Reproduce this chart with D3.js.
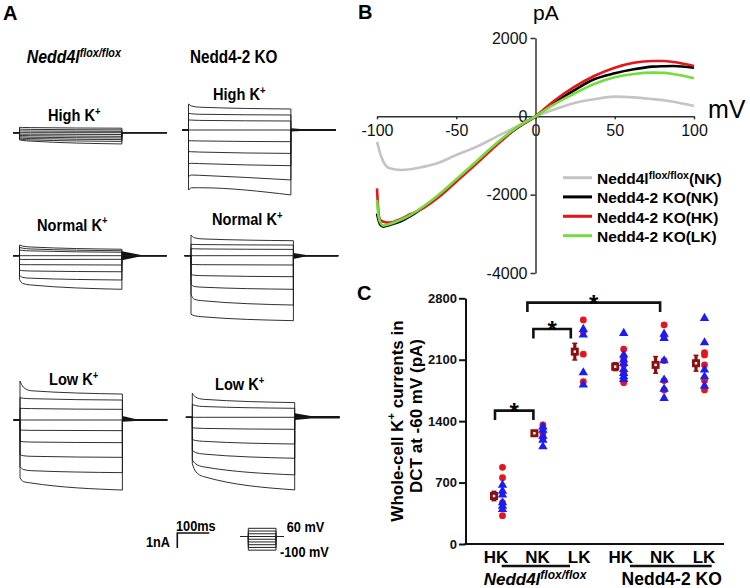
<!DOCTYPE html>
<html><head><meta charset="utf-8">
<script src="https://cdn.jsdelivr.net/npm/d3@7"></script>
<style>
html,body{margin:0;padding:0;background:#fff;}
svg{display:block;font-family:"Liberation Sans",Arial,Helvetica,sans-serif;}
</style></head><body>
<svg id="chart" width="750" height="588"></svg>
<script>
// ================= DATA =================
// Panel A: whole-cell current traces (nA, relative to holding) sampled at these times (ms) in the 320 ms step
const traceTimes = [0, 10, 35, 320];
const floxHighK = [
  [0.36, 0.35, 0.34, 0.30], [0.24, 0.23, 0.22, 0.19], [0.12, 0.115, 0.11, 0.09], [0, 0, 0, 0],
  [-0.09, -0.10, -0.10, -0.12], [-0.18, -0.19, -0.20, -0.24], [-0.27, -0.28, -0.30, -0.35],
  [-0.35, -0.37, -0.39, -0.46], [-0.42, -0.45, -0.48, -0.58], [-0.48, -0.52, -0.56, -0.75]];
const koHighK = [
  [1.73, 1.60, 1.52, 1.40], [1.11, 1.08, 1.05, 1.00], [0.67, 0.66, 0.64, 0.60], [0, 0, 0, 0],
  [-0.71, -0.72, -0.73, -0.78], [-1.44, -1.45, -1.47, -1.56], [-2.25, -2.22, -2.24, -2.38],
  [-3.10, -3.00, -3.02, -3.33], [-4.00, -3.85, -3.85, -4.33]];
const floxNormalK = [
  [0.71, 0.64, 0.58, 0.43], [0.55, 0.50, 0.45, 0.33], [0.38, 0.35, 0.32, 0.23], [0, 0, 0, 0],
  [-0.24, -0.25, -0.25, -0.24], [-0.58, -0.60, -0.60, -0.62], [-0.95, -1.00, -1.02, -1.07],
  [-1.30, -1.45, -1.50, -1.62], [-1.60, -1.85, -1.95, -2.24]];
const koNormalK = [
  [1.38, 1.20, 1.12, 1.00], [0.76, 0.75, 0.74, 0.71], [0.47, 0.46, 0.45, 0.42], [0, 0, 0, 0],
  [-0.58, -0.59, -0.60, -0.62], [-1.25, -1.30, -1.33, -1.40], [-1.90, -2.05, -2.10, -2.24],
  [-2.60, -2.90, -3.00, -3.29], [-3.90, -4.00, -4.07, -4.33]];
const floxLowK = [
  [2.60, 2.20, 1.95, 1.73], [1.49, 1.45, 1.42, 1.33], [0.78, 0.77, 0.76, 0.71], [0, 0, 0, 0],
  [-0.67, -0.68, -0.69, -0.71], [-1.42, -1.45, -1.47, -1.51], [-2.30, -2.38, -2.42, -2.49],
  [-3.10, -3.30, -3.38, -3.51], [-3.85, -4.10, -4.20, -4.67]];
const koLowK = [
  [1.60, 1.35, 1.20, 0.98], [0.85, 0.78, 0.72, 0.60], [0, 0, 0, 0],
  [-0.69, -0.72, -0.74, -0.80], [-1.47, -1.55, -1.60, -1.78], [-2.20, -2.35, -2.45, -2.73],
  [-2.85, -3.10, -3.30, -3.84], [-3.10, -3.60, -3.95, -4.84]];
// tail currents after the step: [top nA, bottom nA, taper ms, residual half-width nA]
const tailFloxHighK = [0.04, -0.04, 20, 0.02];
const tailKoHighK = [0.12, -0.10, 30, 0.07];
const tailFloxNormalK = [0.30, -0.30, 60, 0.04];
const tailKoNormalK = [0.18, -0.22, 40, 0.04];
const tailFloxLowK = [0.27, -0.12, 40, 0.07];
const tailKoLowK = [0.27, -0.18, 50, 0.08];
// voltage protocol (mV) and its timing (ms)
const protocolSteps = [60, 40, 20, 0, -20, -40, -60, -80, -100];
const protocolTimes = [-88, 0, 320, 412];

// Panel B: I-V curves (pA vs mV)
const voltsB = [-100,-99,-98,-96,-92,-85,-79,-71,-62,-50,-37,-25,-12,0,11,24,37,50,62,74,81,87,100];
const ivFloxNK = [-650,-800,-945,-1157,-1328,-1370,-1353,-1290,-1200,-987,-774,-530,-264,0,162,332,434,502,485,440,410,374,264];
const ivKoNK   = [-2480,-2650,-2760,-2817,-2774,-2680,-2550,-2330,-2051,-1626,-1157,-720,-306,0,332,655,945,1098,1200,1268,1280,1285,1243];
const ivKoHK   = [-1838,-2480,-2647,-2689,-2715,-2620,-2500,-2350,-2094,-1668,-1200,-750,-306,0,374,740,1030,1243,1370,1413,1413,1387,1285];
const ivKoLK   = [-2136,-2562,-2700,-2790,-2749,-2640,-2520,-2310,-2034,-1609,-1140,-700,-289,0,289,570,826,996,1081,1115,1110,1081,970];
const xTicksB = [-100, -50, 0, 50, 100];
const yTicksB = [-4000, -2000, 0, 2000];

// Panel C: whole-cell K+ current at -60 mV (pA)
const groupsC = ["HK", "NK", "LK", "HK", "NK", "LK"];
const meanC = [547, 1262, 2192, 2021, 2041, 2060];
const semC  = [53, 20, 95, 45, 95, 90];
const redC = [[874, 756, 470, 323], [1357, 1262, 1205], [2554, 2420, 2163, 1850],
              [2220, 2117, 2041, 1950, 1839], [2497, 2364, 2090, 1862, 1756], [2181, 2155, 2041, 1862, 1756]];
const blueC = [[673, 604, 560, 471, 433, 395], [1337, 1300, 1231, 1186, 1110], [2448, 2383, 1953, 1813],
               [2402, 2155, 2098, 2060, 1991, 1946, 1907, 1878], [2394, 2345, 2090, 1870, 1767, 1661],
               [2573, 2295, 1984, 1907, 1801]];
const yTicksC = [0, 700, 1400, 2100, 2800];
const bracketFrom = [0, 1, 1];
const bracketTo = [1, 2, 4];
const bracketLevel = [1520, 2450, 2751];

// ================= HELPERS =================
const svg = d3.select('#chart');
function rich(sel, x, y, parts, o) {
  const size = o.size, sx = o.sx || 1, rot = o.rotate || 0;
  const t = sel.append('text')
    .attr('transform', `translate(${x},${y}) rotate(${rot}) scale(${sx},1)`)
    .attr('font-size', size).attr('font-weight', o.weight || 'bold')
    .attr('font-style', o.italic ? 'italic' : 'normal')
    .attr('text-anchor', o.anchor || 'start').attr('fill', o.fill || '#000');
  let shift = 0;
  parts.forEach(p => {
    if (typeof p === 'string') p = {t: p};
    const sp = t.append('tspan').text(p.t);
    if (p.sup) { const d = -size * (p.rise || 0.42); sp.attr('dy', d - shift).attr('font-size', p.sup); shift = d; }
    else if (shift) { sp.attr('dy', -shift); shift = 0; }
  });
  return t;
}
const plain = d => String(d);

// ================= PANEL A =================
const gA = svg.append('g');
rich(gA, 3, 20, ['A'], {size: 20});
const msPx = 0.32, nAPx = 15;
const panelsA = [
  {x0: 19.5, yb: 132.7, traces: floxHighK, tail: tailFloxHighK},
  {x0: 188.5, yb: 130.0, traces: koHighK, tail: tailKoHighK},
  {x0: 19.5, yb: 255.7, traces: floxNormalK, tail: tailFloxNormalK},
  {x0: 191.0, yb: 255.7, traces: koNormalK, tail: tailKoNormalK},
  {x0: 20.0, yb: 420.0, traces: floxLowK, tail: tailFloxLowK},
  {x0: 192.3, yb: 417.3, traces: koLowK, tail: tailKoLowK}
];
const curveLine = d3.line().curve(d3.curveMonotoneX);
panelsA.forEach(p => {
  const tx = d3.scaleLinear().domain([0, 100]).range([p.x0, p.x0 + 100 * msPx]);
  const ty = d3.scaleLinear().domain([0, 1]).range([p.yb, p.yb - nAPx]);
  const g = gA.append('g');
  const tl = p.tail;
  const tailPts = [320, 320 + tl[2], 460];
  const area = d3.area().x((d, i) => tx(tailPts[i]))
    .y0((d, i) => ty(i === 0 ? tl[1] : -tl[3]))
    .y1((d, i) => ty(i === 0 ? tl[0] : tl[3]));
  g.append('path').attr('d', area(tailPts)).attr('fill', '#111');
  p.traces.forEach(tr => {
    const pts = traceTimes.map((t, i) => [tx(t), ty(tr[i])]);
    const c = curveLine(pts);
    const d = `M${tx(-20)},${ty(0)}L${tx(0)},${ty(0)}L` + c.slice(1) +
              `L${tx(320)},${ty(0)}L${tx(460)},${ty(0)}`;
    g.append('path').attr('d', d).attr('fill', 'none').attr('stroke', '#1a1a1a').attr('stroke-width', 0.9);
  });
});
rich(gA, 26.7, 63, ['Nedd4l', {t: 'flox/flox', sup: 12.5, rise: 0.35}], {size: 18.5, italic: true, sx: 0.86});
rich(gA, 190, 63, ['Nedd4-2 KO'], {size: 18, sx: 0.85});
const kPlus = (x, y, name) => rich(gA, x, y, [name + ' K', {t: '+', sup: 11, rise: 0.38}], {size: 17, sx: 0.86});
kPlus(48, 121, 'High'); kPlus(213, 100, 'High');
kPlus(37, 230.7, 'Normal'); kPlus(212, 225, 'Normal');
kPlus(49, 385, 'Low'); kPlus(215, 390, 'Low');
{
  const sbx = 177.3, sby = 533;
  gA.append('path').attr('d', `M${sbx},${sby + 1 * nAPx}L${sbx},${sby}L${sbx + 100 * msPx},${sby}`)
    .attr('fill', 'none').attr('stroke', '#111').attr('stroke-width', 1.6);
  rich(gA, 176, 531, ['100ms'], {size: 15, sx: 0.85});
  rich(gA, 146, 547, ['1nA'], {size: 15, sx: 0.85});
}
{
  const px = d3.scaleLinear().domain([0, 320]).range([248.3, 276]);
  const py = d3.scaleLinear().domain([0, 60]).range([536.5, 528.3]);
  const t = protocolTimes;
  const g = gA.append('g');
  protocolSteps.forEach(v => {
    g.append('path').attr('d', `M${px(t[0])},${py(0)}L${px(t[1])},${py(0)}L${px(t[1])},${py(v)}L${px(t[2])},${py(v)}L${px(t[2])},${py(0)}L${px(t[3])},${py(0)}`)
      .attr('fill', 'none').attr('stroke', '#222').attr('stroke-width', 1);
  });
  rich(gA, 286.7, 531.7, ['60 mV'], {size: 15, sx: 0.85});
  rich(gA, 280, 556.7, ['-100 mV'], {size: 15, sx: 0.85});
}

// ================= PANEL B =================
const gB = svg.append('g');
rich(gB, 358, 19, ['B'], {size: 20});
const xB = d3.scaleLinear().domain([-100, 100]).range([377, 694]);
const yB = d3.scaleLinear().domain([-4000, 2000]).range([273, 38]);
const axB = gB.append('g').attr('transform', `translate(0,${yB(0)})`)
  .call(d3.axisBottom(xB).tickValues(xTicksB).tickFormat(plain).tickSize(3).tickPadding(5).tickSizeOuter(0));
const ayB = gB.append('g').attr('transform', `translate(${xB(0)},0)`)
  .call(d3.axisLeft(yB).tickValues(yTicksB).tickFormat(plain).tickSize(5).tickPadding(3).tickSizeOuter(0));
[axB, ayB].forEach(a => {
  a.selectAll('path,line').attr('stroke', '#333').attr('stroke-width', 1.5);
  a.selectAll('text').attr('font-size', 16).attr('fill', '#111')
   .attr('font-family', '"Liberation Sans",Arial,sans-serif');
});
rich(gB, 533, 19.5, ['pA'], {size: 21, weight: 'normal'});
rich(gB, 708, 118, ['mV'], {size: 25, weight: 'normal'});
const seriesB = [
  {vals: ivFloxNK, color: '#c4c4c4'},
  {vals: ivKoNK, color: '#000000'},
  {vals: ivKoHK, color: '#e3141b'},
  {vals: ivKoLK, color: '#72dd3c'}
];
const lineB = d3.line().x((d, i) => xB(voltsB[i])).y(d => yB(d)).curve(d3.curveMonotoneX);
seriesB.forEach(s => {
  gB.append('path').attr('d', lineB(s.vals)).attr('fill', 'none')
    .attr('stroke', s.color).attr('stroke-width', 2.6).attr('stroke-linejoin', 'round');
});
const legendB = [
  {parts: ['Nedd4l', {t: 'flox/flox', sup: 10.5, rise: 0.36}, '(NK)'], color: '#c4c4c4'},
  {parts: ['Nedd4-2 KO(NK)'], color: '#000000'},
  {parts: ['Nedd4-2 KO(HK)'], color: '#e3141b'},
  {parts: ['Nedd4-2 KO(LK)'], color: '#72dd3c'}
];
const legRows = [177.7, 196.9, 216.3, 235.7];
legendB.forEach((l, i) => {
  gB.append('line').attr('x1', 563).attr('x2', 592).attr('y1', legRows[i]).attr('y2', legRows[i])
    .attr('stroke', l.color).attr('stroke-width', 3);
  rich(gB, 597, legRows[i] + 6.5, l.parts, {size: 15.5});
});

// ================= PANEL C =================
const gC = svg.append('g');
rich(gC, 357, 300, ['C'], {size: 20});
const xC = d3.scalePoint().domain(d3.range(groupsC.length)).range([498, 700]);
const xLab = d3.scalePoint().domain(d3.range(groupsC.length)).range([496, 704]);
const yC = d3.scaleLinear().domain([0, 2800]).range([544, 298.3]);
const ayC = gC.append('g').attr('transform', 'translate(465.5,0)')
  .call(d3.axisLeft(yC).tickValues(yTicksC).tickFormat(plain).tickSize(6.5).tickPadding(2).tickSizeOuter(0));
ayC.selectAll('path,line').attr('stroke', '#111').attr('stroke-width', 2);
ayC.selectAll('text').attr('font-size', 13).attr('font-weight', 'bold').attr('fill', '#111')
  .attr('font-family', '"Liberation Sans",Arial,sans-serif');
gC.append('line').attr('x1', 464.5).attr('x2', 724).attr('y1', yC(0)).attr('y2', yC(0))
  .attr('stroke', '#111').attr('stroke-width', 2);
rich(gC, 402.7, 421, ['Whole-cell K', {t: '+', sup: 11.5, rise: 0.45}, ' currents in'], {size: 17, anchor: 'middle', rotate: -90});
rich(gC, 422.3, 416, ['DCT at -60 mV (pA)'], {size: 17, anchor: 'middle', rotate: -90});
const tri = d3.symbol().type(d3.symbolTriangle).size(38);
groupsC.forEach((g, i) => {
  const cx = xC(i);
  gC.append('line').attr('x1', cx - 4).attr('x2', cx - 4)
    .attr('y1', yC(meanC[i] - semC[i])).attr('y2', yC(meanC[i] + semC[i]))
    .attr('stroke', '#8b1010').attr('stroke-width', 3.2);
  [meanC[i] - semC[i], meanC[i] + semC[i]].forEach(v => {
    gC.append('line').attr('x1', cx - 6.5).attr('x2', cx - 1.5).attr('y1', yC(v)).attr('y2', yC(v))
      .attr('stroke', '#8b1010').attr('stroke-width', 1.5);
  });
  gC.append('rect').attr('x', cx - 8).attr('y', yC(meanC[i]) - 4).attr('width', 8).attr('height', 8)
    .attr('fill', '#8b1010');
  gC.append('rect').attr('x', cx - 5.2).attr('y', yC(meanC[i]) - 1.2).attr('width', 2.4).attr('height', 2.4)
    .attr('fill', '#fff');
  redC[i].forEach(v => {
    gC.append('circle').attr('cx', cx + 4.5).attr('cy', yC(v)).attr('r', 3.4).attr('fill', '#e8141c');
  });
  blueC[i].forEach(v => {
    gC.append('path').attr('d', tri).attr('transform', `translate(${cx + 4.5},${yC(v)})`).attr('fill', '#1d1df2');
  });
});
// significance brackets (end offsets relative to mean markers)
const brPadL = [1, -1, -7], brPadR = [-1, -4, 4.5];
bracketFrom.forEach((f, k) => {
  const x1 = xC(f) - 4 + brPadL[k], x2 = xC(bracketTo[k]) - 4 + brPadR[k];
  const yt = yC(bracketLevel[k]);
  gC.append('path').attr('d', `M${x1},${yt + 9.5}L${x1},${yt}L${x2},${yt}L${x2},${yt + 9.5}`)
    .attr('fill', 'none').attr('stroke', '#111').attr('stroke-width', 2.6);
  rich(gC, (x1 + x2) / 2, yt + 9, ['*'], {size: 24, anchor: 'middle'});
});
groupsC.forEach((g, i) => rich(gC, xLab(i), 562.7, [g], {size: 17, anchor: 'middle'}));
gC.append('line').attr('x1', 501.7).attr('x2', 570).attr('y1', 566).attr('y2', 566)
  .attr('stroke', '#111').attr('stroke-width', 2.5);
gC.append('line').attr('x1', 630).attr('x2', 711.7).attr('y1', 566).attr('y2', 566)
  .attr('stroke', '#111').attr('stroke-width', 2.5);
rich(gC, 535, 585, ['Nedd4l', {t: 'flox/flox', sup: 12, rise: 0.38}], {size: 17, italic: true, anchor: 'middle'});
rich(gC, 671.7, 585, ['Nedd4-2 KO'], {size: 17.5, anchor: 'middle'});
</script>
</body></html>
